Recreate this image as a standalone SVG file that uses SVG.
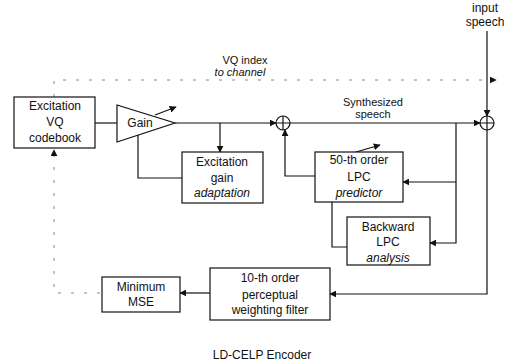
<svg xmlns="http://www.w3.org/2000/svg" width="510" height="363" viewBox="0 0 510 363">
<defs>
<marker id="ah" viewBox="0 0 10 10" refX="9" refY="5" markerWidth="7" markerHeight="7" orient="auto" markerUnits="userSpaceOnUse"><path d="M0,0 L10,5 L0,10 z" fill="#111"/></marker>
</defs>
<style>
.box{fill:#fff;stroke:#111;stroke-width:1.2}
.ln{fill:none;stroke:#111;stroke-width:1.2}
.dash{fill:none;stroke:#888;stroke-width:1;stroke-dasharray:3 10}
text{font-family:"Liberation Sans",Arial,sans-serif;font-size:12px;fill:#111;text-anchor:middle}
.it{font-style:italic}
.sm{font-size:11px}
</style>
<rect width="510" height="363" fill="#fff"/>
<g id="connectors">
<path class="dash" d="M100,293 H54 V150" marker-end="url(#ah)"/>
<path class="dash" d="M54,97 V80 H496" marker-end="url(#ah)"/>
<path class="ln" d="M95,123 H117"/>
<path class="ln" d="M175,123 H276" marker-end="url(#ah)"/>
<path class="ln" d="M155,115 L176,107" marker-end="url(#ah)"/>
<path class="ln" d="M220,123 V152" marker-end="url(#ah)"/>
<path class="ln" d="M182,178 H138 V135"/>
<path class="ln" d="M290,123 H480" marker-end="url(#ah)"/>
<path class="ln" d="M487,31 V116" marker-end="url(#ah)"/>
<path class="ln" d="M456,123 V243 H430" marker-end="url(#ah)"/>
<path class="ln" d="M456,182 H403" marker-end="url(#ah)"/>
<path class="ln" d="M315,176 H285 V130" marker-end="url(#ah)"/>
<path class="ln" d="M356,152 L380,145" marker-end="url(#ah)"/>
<path class="ln" d="M347,247 H332 V202"/>
<path class="ln" d="M487,130 V294 H330" marker-end="url(#ah)"/>
<path class="ln" d="M210,293 H180" marker-end="url(#ah)"/>
</g>
<g id="codebook">
<rect class="box" x="14" y="97" width="81" height="51"/>
<text x="55" y="110">Excitation</text>
<text x="55" y="126">VQ</text>
<text x="55" y="142">codebook</text>
</g>
<g id="gain">
<path class="box" d="M117,105 L117,142 L175,123 z"/>
<text x="140" y="127">Gain</text>
</g>
<g id="gainadapt">
<rect class="box" x="182" y="152" width="81" height="51"/>
<text x="222" y="166">Excitation</text>
<text x="222" y="182">gain</text>
<text x="222" y="197" class="it">adaptation</text>
</g>
<g id="sum1">
<circle class="box" cx="283" cy="123" r="7"/>
<path class="ln" d="M276,123 H290 M283,116 V130"/>
</g>
<g id="sum2">
<circle class="box" cx="487" cy="123" r="7"/>
<path class="ln" d="M480,123 H494 M487,116 V130"/>
</g>
<g id="lpcpred">
<rect class="box" x="315" y="152" width="88" height="50"/>
<text x="359" y="164">50-th order</text>
<text x="359" y="181">LPC</text>
<text x="359" y="197" class="it">predictor</text>
</g>
<g id="backward">
<rect class="box" x="347" y="217" width="83" height="48"/>
<text x="388" y="231">Backward</text>
<text x="388" y="246">LPC</text>
<text x="388" y="262" class="it">analysis</text>
</g>
<g id="weighting">
<rect class="box" x="210" y="268" width="120" height="52"/>
<text x="270" y="282">10-th order</text>
<text x="270" y="299">perceptual</text>
<text x="270" y="314">weighting filter</text>
</g>
<g id="mse">
<rect class="box" x="102" y="277" width="78" height="35"/>
<text x="141" y="291">Minimum</text>
<text x="141" y="306">MSE</text>
</g>
<g id="labels">
<text x="245" y="64" class="sm">VQ index</text>
<text x="240" y="76" class="sm it">to channel</text>
<text x="373" y="106" class="sm">Synthesized</text>
<text x="373" y="118" class="sm">speech</text>
<text x="485" y="12" font-size="10">input</text>
<text x="485" y="26" font-size="10">speech</text>
<text x="262" y="359">LD-CELP Encoder</text>
</g>
</svg>
